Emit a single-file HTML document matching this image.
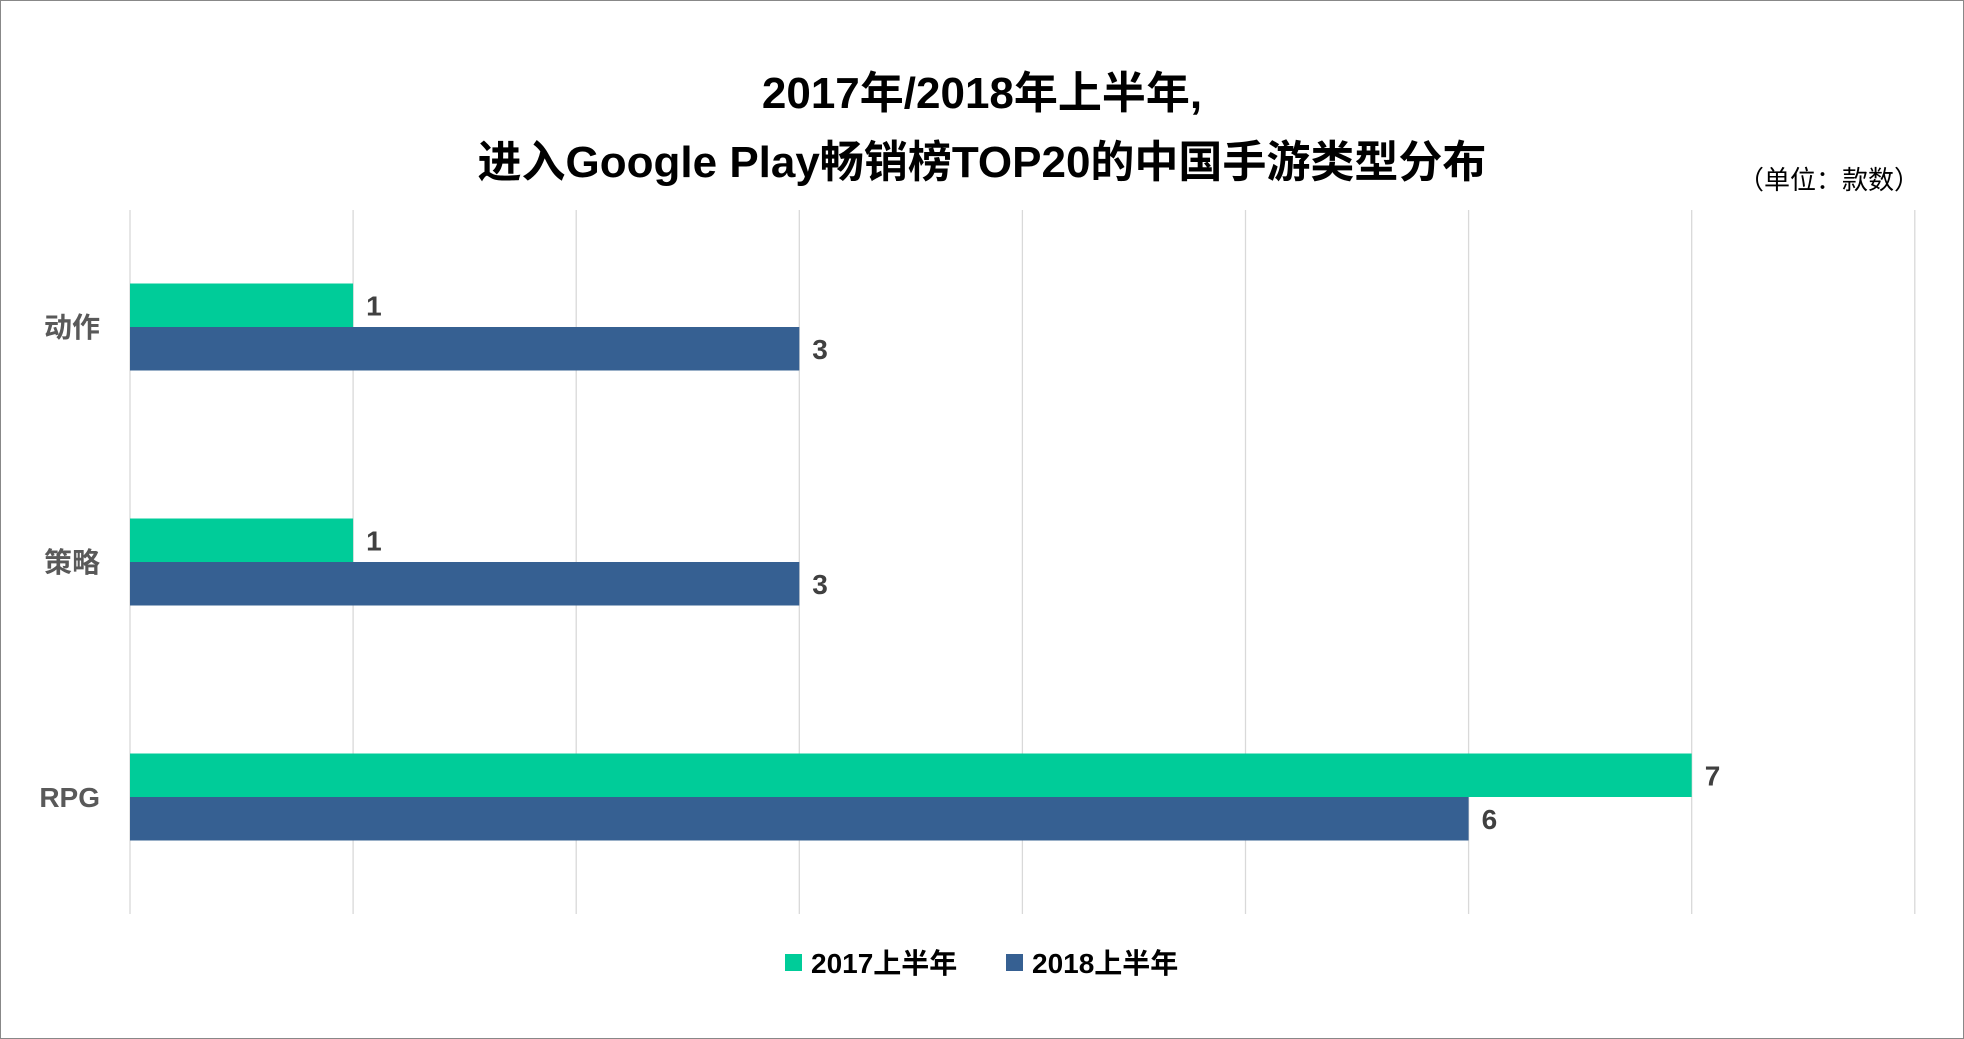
<!DOCTYPE html>
<html><head><meta charset="utf-8"><style>
body{margin:0;width:1964px;height:1039px;background:#fff;font-family:"Liberation Sans","Noto Sans CJK SC",sans-serif;overflow:hidden}
#frame{position:absolute;left:0;top:0;width:1962px;height:1037px;border:1px solid #888}
.t{position:absolute;left:0;width:1964px;text-align:center;font-weight:bold;font-size:44px;color:#000}
</style></head><body>
<div id="frame"></div>
<div class="t" style="top:57px">2017年/2018年上半年,</div>
<div class="t" style="top:126px">进入Google Play畅销榜TOP20的中国手游类型分布</div>
<div style="position:absolute;right:44px;top:160px;font-size:26px;color:#000">（单位：款数）</div>
<svg id="chart" width="1964" height="1039" style="position:absolute;left:0;top:0"></svg>
<script>
const categories=["动作","策略","RPG"];
const values2017=[1,1,7];
const values2018=[3,3,6];
const seriesNames=["2017上半年","2018上半年"];
const colors=["#00CC99","#366092"];
const NS="http://www.w3.org/2000/svg";
const svgEl=document.getElementById('chart');
const x0=130,xStep=223.1,maxV=8,plotTop=210,plotBottom=914;
const xs=v=>x0+v*xStep;
const catCenter=i=>327+i*235;
const bh=43.5;
function mk(t,a){const e=document.createElementNS(NS,t);for(const k in a)e.setAttribute(k,a[k]);svgEl.appendChild(e);return e;}
for(let v=0;v<=maxV;v++){
 const l=mk('line',{x1:xs(v),x2:xs(v),y1:plotTop,y2:plotBottom,stroke:'#d9d9d9','stroke-width':1.3});
 
 
}
categories.forEach((c,i)=>{
 const cy=catCenter(i);
 const t=mk('text',{x:100,y:cy+10,'text-anchor':'end','font-size':28,'font-weight':'bold',fill:'#595959'});
 t.textContent=c;
 
 
 [values2017,values2018].forEach((arr,s)=>{
  const y=cy-bh+s*bh;
  const r=mk('rect',{x:x0,y:y,width:xs(arr[i])-x0,height:bh,fill:colors[s]});
  
  
  const lb=mk('text',{x:xs(arr[i])+13,y:y+bh/2+10,'font-size':28,'font-weight':'bold',fill:'#404040'});
  lb.textContent=arr[i];
  
  
 });
});
const legX=[785,1006];
seriesNames.forEach((n,s)=>{
 const r=mk('rect',{x:legX[s],y:954,width:17,height:17,fill:colors[s]});
 
 
 const t=mk('text',{x:legX[s]+26,y:973,'font-size':28,'font-weight':'bold',fill:'#000'});
 t.textContent=n;
 
 
});
</script>
</body></html>
